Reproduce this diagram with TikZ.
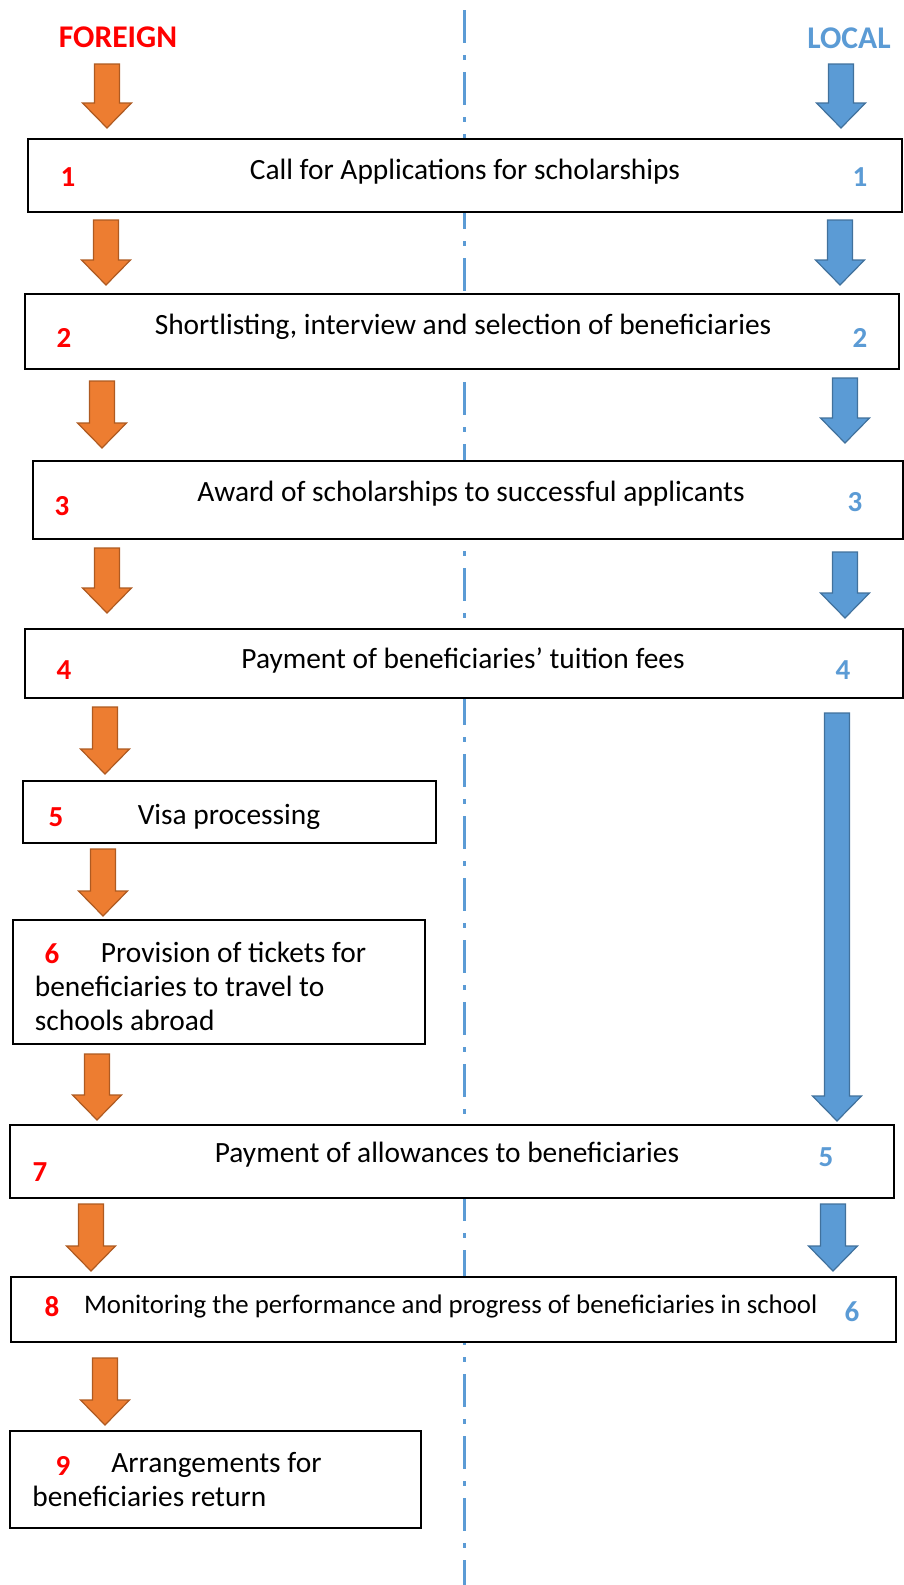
\documentclass[tikz,border=0pt]{standalone}
\usepackage{fontspec}
\setmainfont{Carlito}
\definecolor{forange}{HTML}{ED7D31}
\definecolor{forangeline}{HTML}{AE5A21}
\definecolor{lblue}{HTML}{5B9BD5}
\definecolor{lblueline}{HTML}{41719C}
\tikzstyle{box} = [rectangle, draw, line width=1pt, fill=white, inner sep=0pt]
\tikzstyle{boxtext} = [inner sep=0pt, font=\fontsize{14.7}{17}\selectfont]
\tikzstyle{head} = [inner sep=0pt, font=\fontsize{15.8}{18}\selectfont\bfseries]
\tikzstyle{fnum} = [inner sep=0pt, text=red, font=\fontsize{14.5}{18}\selectfont\bfseries]
\tikzstyle{lnum} = [inner sep=0pt, text=lblue, font=\fontsize{14.5}{18}\selectfont\bfseries]
\tikzstyle{farrow} = [draw=forangeline, fill=forange, line width=0.6pt, line join=miter]
\tikzstyle{larrow} = [draw=lblueline, fill=lblue, line width=0.6pt, line join=miter]
\tikzstyle{midline} = [draw=lblue, line width=1.5pt,
    dash pattern=on 16.5pt off 6pt on 2.5pt off 6pt]
% fat down arrow: style, x, top, tip
\newcommand{\blockarrow}[4]{%
    \path [#1] (#2-12.5,#3) -- (#2+12.5,#3) -- (#2+12.5,#4-25) -- (#2+24.5,#4-25)
        -- (#2,#4) -- (#2-24.5,#4-25) -- (#2-12.5,#4-25) -- cycle;}

\begin{document}
\begin{tikzpicture}[x=0.5pt, y=-0.5pt]
    \useasboundingbox (0,0) rectangle (904,1585);
    % Divider
    \coordinate (top) at (464,10);
    \coordinate (bottom) at (464,1585);
    \path [midline] (top) -- (bottom);
    % Headings
    \node [head, text=red] (foreign) at (118,37) {FOREIGN};
    \node [head, text=lblue] (local) at (849,38) {LOCAL};
    % Boxes
    \node [box, minimum width=437pt, minimum height=36.5pt] (b1) at (465,175.5) {};
    \node [box, minimum width=437pt, minimum height=37.5pt] (b2) at (462,331.5) {};
    \node [box, minimum width=435pt, minimum height=39pt] (b3) at (468,500) {};
    \node [box, minimum width=439pt, minimum height=34.5pt] (b4) at (464,663.5) {};
    \node [box, minimum width=206.5pt, minimum height=31pt] (b5) at (229.5,812) {};
    \node [box, minimum width=206pt, minimum height=62pt] (b6) at (219,982) {};
    \node [box, minimum width=442pt, minimum height=36.5pt] (b7) at (452,1161.5) {};
    \node [box, minimum width=442.5pt, minimum height=32.5pt] (b8) at (453.5,1309.5) {};
    \node [box, minimum width=205.5pt, minimum height=48.5pt] (b9) at (215.5,1479.5) {};
    % Texts
    \node [boxtext] (t1) at (465,172) {Call for Applications for scholarships};
    \node [boxtext] (t2) at (463,327) {Shortlisting, interview and selection of beneficiaries};
    \node [boxtext] (t3) at (471,494) {Award of scholarships to successful applicants};
    \node [boxtext] (t4) at (463,660) {Payment of beneficiaries’ tuition fees};
    \node [boxtext] (t5) at (229,817) {Visa processing};
    \node [boxtext, anchor=west, align=left] (t6) at (34.5,986)
        {\hspace*{33pt}Provision of tickets for\\beneficiaries to travel to\\schools abroad};
    \node [boxtext] (t7) at (447,1155) {Payment of allowances to beneficiaries};
    \node [boxtext, anchor=west, font=\fontsize{13.4}{17}\selectfont] (t8) at (83.6,1306)
        {Monitoring the performance and progress of beneficiaries in school};
    \node [boxtext, anchor=west, align=left] (t9) at (32,1480)
        {\hspace*{39.5pt}Arrangements for\\beneficiaries return};
    % Numbers
    \node [fnum] (f1) at (68,177) {1};
    \node [fnum] (f2) at (64,338) {2};
    \node [fnum] (f3) at (62,506) {3};
    \node [fnum] (f4) at (64,670) {4};
    \node [fnum] (f5) at (56,817) {5};
    \node [fnum] (f6) at (52,954) {6};
    \node [fnum] (f7) at (40,1172) {7};
    \node [fnum] (f8) at (52,1307) {8};
    \node [fnum] (f9) at (63,1466) {9};
    \node [lnum] (l1) at (860,177) {1};
    \node [lnum] (l2) at (860,338) {2};
    \node [lnum] (l3) at (855,502) {3};
    \node [lnum] (l4) at (843,670) {4};
    \node [lnum] (l5) at (826,1157) {5};
    \node [lnum] (l6) at (852,1312) {6};
    % Arrows
    \blockarrow{farrow}{107}{64}{128}
    \blockarrow{farrow}{106}{220}{285}
    \blockarrow{farrow}{102}{381}{448}
    \blockarrow{farrow}{107}{548}{613}
    \blockarrow{farrow}{105}{707}{774}
    \blockarrow{farrow}{103}{849}{916}
    \blockarrow{farrow}{97}{1054}{1120}
    \blockarrow{farrow}{91}{1204}{1271}
    \blockarrow{farrow}{105}{1358}{1425}
    \blockarrow{larrow}{841}{64}{128}
    \blockarrow{larrow}{840}{220}{285}
    \blockarrow{larrow}{845}{378}{443}
    \blockarrow{larrow}{845}{552}{618}
    \blockarrow{larrow}{837}{713}{1121}
    \blockarrow{larrow}{833}{1204}{1271}
\end{tikzpicture}
\end{document}
